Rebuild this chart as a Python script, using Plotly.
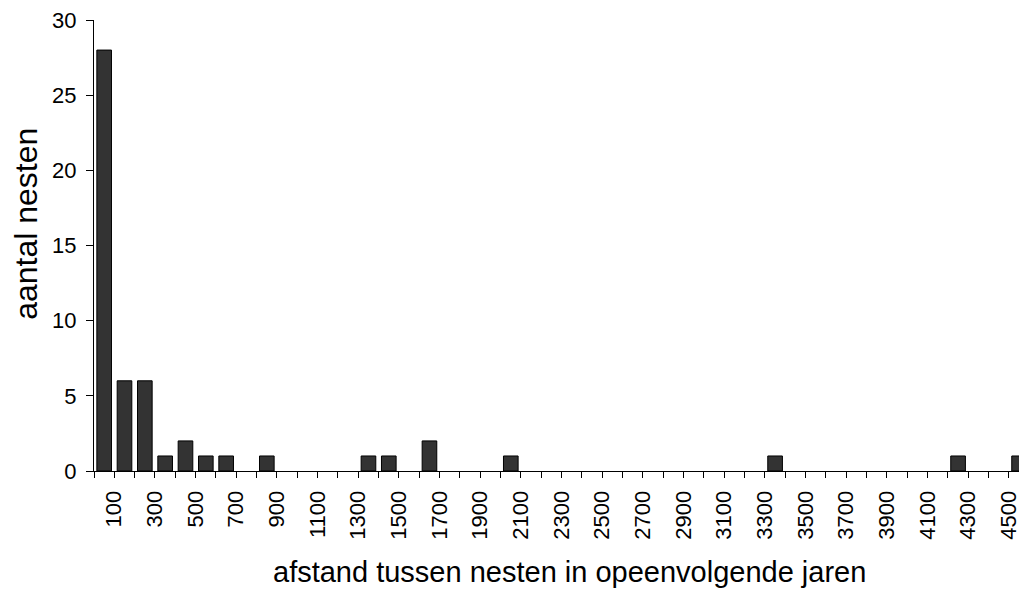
import plotly.graph_objects as go

categories = [str(v) for v in range(100, 4700, 100)]
counts = [28, 6, 6, 1, 2, 1, 1, 0, 1, 0,
          0, 0, 0, 1, 1, 0, 2, 0, 0, 0,
          1, 0, 0, 0, 0, 0, 0, 0, 0, 0,
          0, 0, 0, 1, 0, 0, 0, 0, 0, 0,
          0, 0, 1, 0, 0, 1]
label_every = 2
x_title = "afstand tussen nesten in opeenvolgende jaren"
y_title = "aantal nesten"

x_pos = list(range(len(categories)))
bar_vals = [v if v else None for v in counts]
tick_pos = [i + 0.5 for i in x_pos[::label_every]]
tick_text = categories[::label_every]

font = "Liberation Sans, Arial, sans-serif"

fig = go.Figure(go.Bar(
    x=x_pos, y=bar_vals, width=0.72,
    marker=dict(color="#333333", line=dict(color="black", width=1)),
    hoverinfo="skip",
))

fig.update_layout(
    width=1019, height=582,
    margin=dict(l=86, r=0, t=12, b=119, autoexpand=False),
    paper_bgcolor="white", plot_bgcolor="white",
    showlegend=False,
    font=dict(family=font, color="black", size=22),
    xaxis=dict(
        range=[-0.5, 45.39],
        tickmode="array", tickvals=tick_pos, ticktext=tick_text,
        tickangle=-90, ticks="outside", ticklen=6, tickcolor="black",
        showline=True, linecolor="black", linewidth=1,
        showgrid=False, zeroline=False,
        tickfont=dict(size=22), ticklabelstandoff=4,
        ticklabeloverflow="allow",
        minor=dict(tickmode="linear", tick0=-0.5, dtick=1, ticks="outside",
                   ticklen=6, tickcolor="black", showgrid=False),
    ),
    yaxis=dict(
        range=[0, 30], tickmode="linear", tick0=0, dtick=5,
        ticks="outside", ticklen=7, tickcolor="black",
        showline=True, linecolor="black", linewidth=1,
        showgrid=False, zeroline=False,
        tickfont=dict(size=22), ticklabelstandoff=5,
        ticklabeloverflow="allow",
    ),
    annotations=[
        dict(text=x_title, xref="paper", yref="paper", x=0.510, y=-0.224,
             xanchor="center", yanchor="middle", showarrow=False,
             font=dict(size=29)),
        dict(text=y_title, xref="paper", yref="paper", x=-0.0729, y=0.548,
             xanchor="center", yanchor="middle", showarrow=False,
             textangle=-90, font=dict(size=32)),
    ],
)

fig.write_html("out.html")
